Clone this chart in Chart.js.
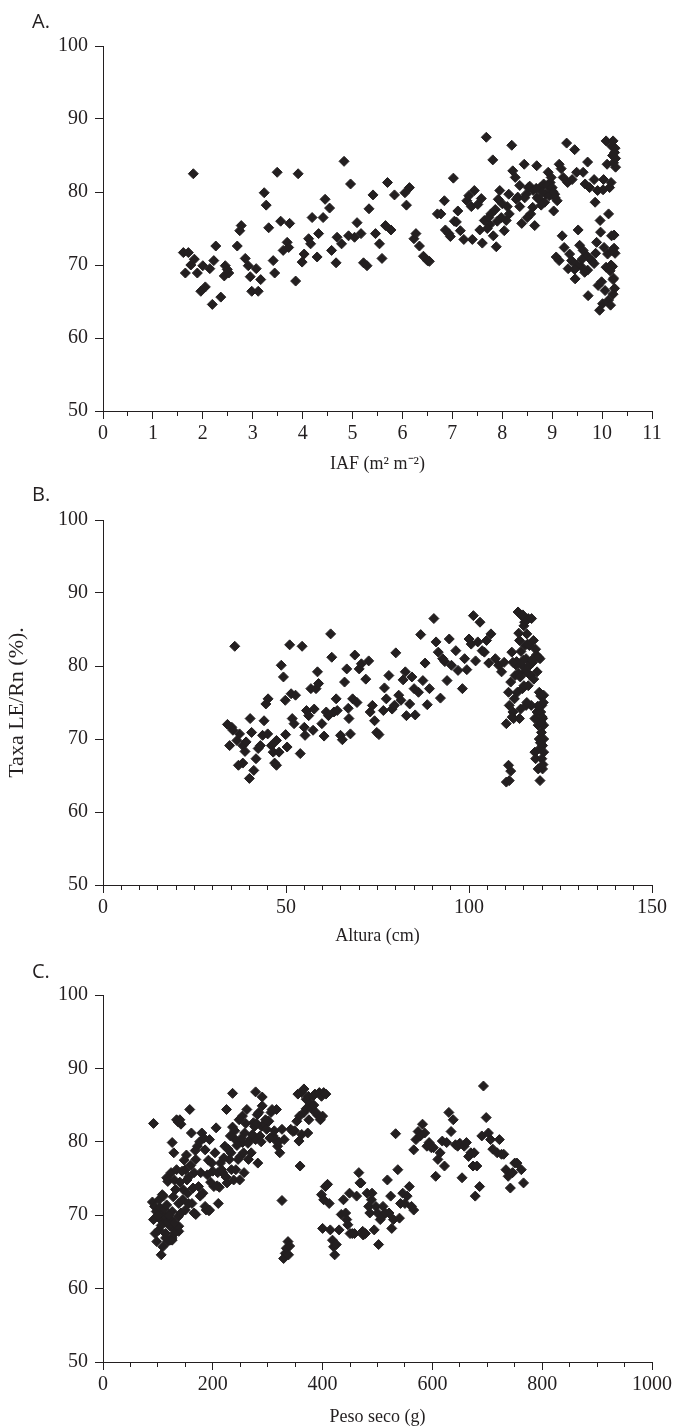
<!DOCTYPE html>
<html>
<head>
<meta charset="utf-8">
<script src="https://cdn.jsdelivr.net/npm/chart.js@4.4.0/dist/chart.umd.min.js"></script>
<style>
  body { margin: 0; background: #fff; }
  #page { position: relative; width: 683px; height: 1428px; overflow: hidden; }
  .panel { position: absolute; left: 0; width: 683px; }
  .panel canvas { display: block; }
  .tag { position: absolute; left: 32px; font-family: "Open Sans", sans-serif; font-size: 20px; line-height: 20px; color: #231f20; }
</style>
</head>
<body>
<div id="page">
  <div class="panel" style="top:0px"><canvas id="chartA" width="683" height="481"></canvas></div>
  <div class="panel" style="top:481px"><canvas id="chartB" width="683" height="475"></canvas></div>
  <div class="panel" style="top:956px"><canvas id="chartC" width="683" height="472"></canvas></div>
  <div class="tag" style="top:11px">A.</div>
  <div class="tag" style="top:484px">B.</div>
  <div class="tag" style="top:961px">C.</div>
</div>
<script>
// Panel A: IAF (m2 m-2) vs Taxa LE/Rn (%)
const iafX = [
  1.61, 1.71, 1.65, 1.81, 1.76, 1.83, 1.89, 1.96, 2.05, 2.00,
  2.14, 2.19, 2.22, 2.26, 2.36, 2.45, 2.43, 2.52, 2.49, 2.69,
  2.74, 2.77, 2.85, 2.91, 2.95, 2.98, 3.11, 3.07, 3.16, 3.23,
  3.27, 3.32, 3.41, 3.44, 3.49, 3.56, 3.61, 3.69, 3.72, 3.74,
  3.86, 3.91, 3.99, 4.03, 4.12, 4.16, 4.19, 4.29, 4.32, 4.41,
  4.45, 4.54, 4.58, 4.67, 4.69, 4.78, 4.83, 4.92, 4.96, 5.04,
  5.09, 5.17, 5.22, 5.29, 5.33, 5.41, 5.46, 5.54, 5.59, 5.66,
  5.70, 5.77, 5.84, 6.05, 6.14, 6.08, 6.23, 6.27, 6.34, 6.42,
  6.50, 6.54, 6.70, 6.77, 6.84, 6.86, 6.93, 6.96, 7.02, 7.04,
  7.08, 7.11, 7.16, 7.23, 7.29, 7.33, 7.38, 7.40, 7.44, 7.51,
  7.58, 7.60, 7.55, 7.64, 7.68, 7.73, 7.77, 7.81, 7.82, 7.88,
  7.86, 7.92, 7.95, 8.00, 8.04, 8.08, 8.13, 8.14, 8.19, 8.21,
  8.26, 8.31, 8.35, 8.39, 8.44, 8.48, 8.52, 8.57, 8.61, 8.65,
  8.69, 8.70, 8.76, 8.83, 8.87, 8.92, 8.96, 8.99, 9.03, 9.05,
  9.10, 9.08, 9.14, 9.14, 9.18, 9.22, 9.20, 9.24, 9.29, 9.31,
  9.32, 9.35, 9.39, 9.40, 9.45, 9.46, 9.49, 9.52, 9.55, 9.58,
  9.62, 9.66, 9.69, 9.71, 9.72, 9.71, 9.75, 9.79, 9.84, 9.84,
  9.86, 9.87, 9.89, 9.91, 9.92, 9.95, 9.96, 9.97, 9.99, 10.01,
  10.02, 10.03, 10.04, 10.06, 10.08, 10.08, 10.10, 10.11, 10.13, 10.13,
  10.15, 10.17, 10.18, 10.19, 10.19, 10.21, 10.22, 10.23, 10.24, 10.25,
  10.22, 10.26, 10.27, 10.24, 10.26, 10.23, 10.21, 10.25, 10.27, 10.20,
  10.18, 10.16, 10.22, 8.55, 8.62, 8.74, 8.80, 8.85, 8.90, 8.94,
  8.98, 9.00, 8.78, 8.68, 8.45, 8.28, 8.35, 8.10, 7.98, 7.90,
  7.75, 7.70, 8.50, 9.02, 9.06, 9.50, 9.60, 9.65, 9.45, 9.62
];
const iafY = [
  71.7, 71.7, 68.9, 82.5, 70.0, 70.8, 68.9, 66.4, 67.0, 69.9,
  69.5, 64.6, 70.6, 72.6, 65.6, 69.9, 68.5, 68.9, 69.4, 72.6,
  74.7, 75.4, 70.9, 69.9, 68.4, 66.4, 66.4, 69.5, 68.0, 79.9,
  78.2, 75.1, 70.6, 68.9, 82.7, 76.0, 72.0, 73.1, 72.4, 75.7,
  67.8, 82.5, 70.4, 71.5, 73.6, 72.9, 76.5, 71.1, 74.3, 76.5,
  79.0, 77.8, 72.0, 70.3, 73.8, 72.9, 84.2, 74.0, 81.1, 73.8,
  75.8, 74.3, 70.3, 69.9, 77.7, 79.6, 74.3, 72.9, 70.9, 75.4,
  81.3, 74.8, 79.6, 79.9, 80.6, 78.2, 73.6, 74.3, 72.6, 71.2,
  70.6, 70.5, 77.0, 77.0, 78.8, 74.8, 74.3, 73.9, 81.9, 76.0,
  75.9, 77.4, 74.7, 73.5, 78.8, 79.5, 78.0, 73.5, 80.2, 78.3,
  79.1, 73.0, 74.8, 76.1, 87.5, 76.5, 77.0, 84.4, 74.0, 72.5,
  77.6, 79.0, 80.2, 78.4, 74.7, 76.1, 79.7, 77.0, 86.4, 82.9,
  82.0, 79.3, 80.9, 75.7, 83.8, 79.7, 80.6, 77.0, 77.9, 75.4,
  83.6, 79.2, 80.6, 81.1, 79.7, 82.7, 81.3, 80.2, 77.4, 79.7,
  78.8, 71.1, 70.6, 83.8, 83.2, 82.0, 74.0, 72.4, 86.7, 81.3,
  69.5, 71.5, 70.6, 81.7, 85.8, 68.1, 82.7, 74.8, 72.7, 69.8,
  82.7, 81.1, 71.3, 69.3, 65.8, 84.1, 80.6, 70.6, 81.7, 70.2,
  78.6, 71.6, 73.1, 80.2, 67.2, 63.8, 76.1, 74.5, 67.7, 64.7,
  80.3, 81.7, 72.4, 66.5, 69.7, 87.0, 83.8, 71.5, 77.0, 65.2,
  80.6, 64.5, 81.3, 86.3, 74.0, 85.0, 68.0, 84.0, 72.3, 66.8,
  87.0, 86.0, 83.4, 74.1, 71.6, 68.2, 69.8, 85.4, 84.6, 72.0,
  70.0, 69.2, 66.0, 80.8, 80.2, 79.0, 80.0, 78.6, 80.9, 79.5,
  82.0, 80.6, 78.2, 80.5, 79.2, 79.0, 78.0, 78.0, 76.5, 76.0,
  75.5, 75.0, 76.5, 80.0, 79.2, 70.0, 70.8, 69.0, 69.4, 72.0
];

// Panel B: Altura (cm) vs Taxa LE/Rn (%)
const alturaX = [
  34.0, 35.2, 35.5, 34.6, 36.0, 36.6, 37.3, 37.0, 38.2, 38.2,
  39.1, 38.8, 40.0, 40.2, 40.6, 41.2, 41.8, 42.4, 43.0, 43.6,
  44.0, 44.5, 45.1, 45.0, 46.0, 46.5, 46.9, 47.4, 47.4, 48.1,
  48.7, 49.3, 49.8, 49.9, 50.3, 51.0, 51.4, 51.7, 52.2, 52.6,
  53.9, 54.4, 55.0, 55.2, 55.6, 56.2, 56.8, 57.4, 57.7, 58.2,
  58.6, 58.9, 59.8, 60.4, 61.0, 61.6, 62.2, 62.5, 63.1, 63.7,
  64.0, 64.9, 65.4, 66.0, 66.6, 67.0, 67.2, 67.6, 68.2, 68.8,
  69.4, 70.0, 70.6, 71.8, 72.6, 73.0, 73.6, 74.2, 74.8, 75.4,
  76.6, 76.9, 77.4, 78.1, 79.0, 79.6, 80.0, 80.8, 81.4, 82.0,
  82.6, 82.9, 83.8, 84.4, 85.0, 85.3, 86.2, 86.8, 87.4, 88.0,
  88.6, 89.2, 90.4, 91.0, 91.6, 92.2, 92.8, 93.4, 94.0, 94.6,
  95.2, 96.4, 97.0, 98.2, 98.8, 99.4, 100.0, 100.6, 101.2, 101.8,
  102.4, 103.0, 103.6, 104.2, 104.8, 105.4, 106.0, 107.2, 108.1, 108.9,
  109.6, 110.2, 110.2, 110.8, 111.0, 110.8, 111.0, 111.4, 111.4, 111.7,
  112.0, 112.2, 112.6, 112.9, 113.2, 113.4, 113.8, 113.8, 114.1, 114.4,
  114.4, 114.6, 115.0, 115.0, 115.3, 115.3, 115.6, 115.6, 115.8, 116.2,
  116.2, 116.5, 116.8, 117.0, 117.1, 117.4, 117.7, 118.0, 118.0, 118.2,
  118.2, 118.6, 118.6, 118.9, 118.9, 119.2, 119.2, 119.4, 119.4, 119.4,
  119.6, 119.6, 119.8, 119.9, 119.9, 120.1, 120.1, 120.1, 120.4, 120.4,
  120.4, 120.4, 113.0, 113.5, 114.0, 114.8, 115.2, 114.7, 116.0, 116.4,
  117.2, 117.6, 118.4, 119.0, 120.0, 120.2, 119.7, 120.3, 119.5, 118.8,
  112.4, 111.8, 112.0, 113.6, 114.2, 115.8
];
const alturaY = [
  72.0, 71.6, 71.2, 69.1, 82.7, 69.8, 70.7, 66.4, 66.7, 69.1,
  69.6, 68.3, 64.6, 72.8, 70.9, 65.7, 67.3, 68.7, 69.1, 70.5,
  72.5, 74.8, 75.5, 70.7, 69.1, 68.2, 66.7, 66.4, 69.8, 68.2,
  80.1, 78.5, 75.3, 70.6, 68.9, 82.9, 76.2, 72.8, 72.1, 76.0,
  68.0, 82.7, 71.6, 70.5, 73.9, 73.2, 76.9, 71.2, 74.1, 76.9,
  79.2, 77.6, 72.1, 70.4, 73.7, 73.2, 84.4, 81.2, 73.7, 75.5,
  73.9, 70.5, 69.9, 77.8, 79.6, 74.2, 72.8, 70.7, 75.5, 81.5,
  75.0, 79.6, 80.3, 78.2, 80.7, 73.7, 74.6, 72.5, 70.9, 70.6,
  73.9, 77.0, 75.5, 78.7, 74.1, 74.6, 81.8, 76.0, 75.3, 78.1,
  79.2, 73.2, 74.8, 78.5, 76.9, 73.3, 76.4, 84.3, 78.0, 80.4,
  74.7, 76.9, 86.5, 83.3, 81.9, 75.6, 81.0, 80.6, 78.0, 83.7,
  80.1, 82.1, 79.4, 76.9, 81.0, 79.5, 83.7, 83.0, 86.9, 80.7,
  83.3, 86.0, 82.1, 81.9, 83.5, 80.4, 84.4, 81.0, 80.1, 79.2,
  80.5, 72.1, 64.1, 66.4, 64.3, 76.4, 74.6, 77.8, 65.6, 81.9,
  73.7, 72.8, 78.7, 80.1, 76.4, 87.4, 83.5, 72.8, 74.1, 86.9,
  80.1, 76.9, 77.3, 85.5, 82.8, 79.2, 74.6, 81.0, 84.4, 86.5,
  77.3, 82.8, 78.7, 74.6, 86.5, 80.5, 78.2, 72.8, 68.2, 82.3,
  67.3, 73.7, 79.2, 71.9, 65.9, 76.4, 70.0, 68.7, 81.0, 64.3,
  75.9, 73.7, 70.9, 67.3, 74.6, 72.8, 69.1, 65.9, 71.9, 68.2,
  76.0, 70.0, 80.6, 79.0, 78.5, 80.8, 86.0, 87.0, 83.0, 80.0,
  80.8, 83.5, 81.5, 81.2, 73.0, 66.5, 72.3, 75.0, 69.5, 74.5,
  75.5, 73.0, 80.5, 84.5, 82.0, 75.0
];

// Panel C: Peso seco (g) vs Taxa LE/Rn (%)
const pesoX = [
  92, 90, 94, 97, 92, 98, 102, 105, 108, 110,
  113, 95, 98, 102, 106, 109, 114, 118, 122, 126,
  130, 108, 116, 118, 124, 126, 129, 130, 134, 137,
  138, 140, 142, 145, 146, 150, 153, 154, 158, 161,
  162, 164, 166, 169, 172, 174, 177, 178, 180, 182,
  186, 188, 190, 194, 198, 202, 206, 209, 210, 214,
  218, 222, 226, 230, 233, 234, 238, 241, 242, 246,
  249, 250, 254, 257, 258, 262, 265, 268, 270, 274,
  276, 278, 281, 282, 286, 289, 290, 294, 298, 300,
  302, 306, 310, 313, 316, 318, 322, 326, 330, 236,
  278, 290, 225, 254, 308, 134, 137, 114, 122, 126,
  130, 138, 113, 118, 124, 130, 126, 138, 142, 150,
  156, 166, 169, 186, 194, 193, 326, 329, 332, 334,
  337, 338, 340, 342, 346, 353, 357, 359, 362, 366,
  370, 373, 374, 378, 382, 386, 390, 394, 398, 402,
  406, 366, 370, 375, 380, 384, 388, 396, 400, 358,
  355, 362, 349, 398, 400, 402, 405, 409, 412, 414,
  418, 420, 422, 425, 430, 434, 438, 442, 444, 446,
  449, 450, 454, 458, 462, 466, 468, 470, 473, 474,
  478, 481, 484, 486, 489, 490, 494, 497, 500, 502,
  505, 508, 510, 514, 518, 521, 524, 526, 529, 533,
  537, 540, 542, 546, 550, 554, 558, 562, 566, 566,
  570, 574, 578, 582, 586, 590, 594, 598, 602, 606,
  610, 614, 618, 622, 626, 630, 634, 638, 642, 646,
  650, 654, 658, 662, 666, 670, 674, 676, 678, 681,
  686, 690, 693, 698, 702, 706, 710, 718, 722, 726,
  730, 734, 738, 742, 746, 750, 754, 762, 766,
  100, 104, 106, 112, 116, 120, 128, 132, 140, 144,
  148, 152, 156, 160, 168, 176, 184, 192, 196, 200,
  204, 208, 212, 216, 220, 224, 228, 232, 236, 240,
  244, 248, 252, 256, 260, 264, 272, 280, 284, 288,
  296, 304, 312, 320
];
const pesoY = [
  82.5, 71.8, 71.2, 70.5, 69.4, 69.8, 72.1, 69.4, 70.3, 72.6,
  69.1, 67.5, 66.4, 68.0, 64.6, 65.7, 66.9, 66.4, 68.5, 66.9,
  68.0, 72.8, 75.1, 74.6, 75.8, 79.9, 78.5, 74.8, 76.2, 69.8,
  67.8, 83.0, 82.4, 72.1, 73.5, 76.2, 74.8, 73.0, 84.4, 81.2,
  71.6, 73.7, 75.8, 77.6, 79.4, 73.9, 72.6, 75.8, 81.2, 73.0,
  78.9, 70.7, 75.5, 80.3, 77.1, 73.9, 81.9, 75.8, 71.6, 77.1,
  75.8, 79.4, 74.4, 77.6, 78.5, 76.2, 74.8, 80.3, 76.2, 77.6,
  74.8, 78.0, 79.9, 75.8, 81.2, 84.4, 77.6, 80.3, 78.5, 82.6,
  82.1, 80.3, 83.7, 77.1, 80.8, 82.1, 84.9, 82.4, 81.7, 82.8,
  82.8, 84.0, 80.8, 80.3, 84.4, 79.4, 78.5, 81.7, 80.3, 86.6,
  86.8, 86.1, 84.4, 83.5, 84.4, 83.0, 82.7, 67.5, 66.6, 66.6,
  67.5, 68.5, 69.8, 69.1, 69.4, 68.9, 70.5, 71.6, 70.3, 70.7,
  71.6, 70.3, 70.1, 71.2, 70.7, 70.6, 72.0, 64.1, 64.8, 65.5,
  66.4, 64.6, 65.8, 81.7, 81.4, 82.8, 80.1, 76.7, 86.7, 87.2,
  85.8, 81.2, 86.2, 85.1, 86.2, 86.5, 83.7, 86.7, 86.2, 86.7,
  86.5, 84.0, 84.5, 83.0, 84.5, 85.0, 84.0, 83.0, 83.5, 83.5,
  86.5, 81.0, 81.5, 72.8, 68.2, 72.1, 73.9, 74.2, 71.6, 68.0,
  66.6, 65.7, 64.6, 66.0, 68.0, 70.1, 72.1, 70.3, 69.4, 68.7,
  73.0, 67.5, 67.5, 67.5, 72.6, 75.8, 74.4, 74.4, 67.8, 67.3,
  67.5, 73.0, 71.2, 70.3, 72.1, 73.0, 68.0, 71.2, 70.3, 66.0,
  69.4, 69.8, 71.2, 70.3, 74.8, 70.3, 72.6, 68.2, 69.4, 81.1,
  76.2, 69.6, 71.6, 73.0, 71.6, 72.6, 73.9, 71.2, 70.7, 78.9,
  80.3, 81.4, 80.8, 82.4, 81.2, 79.4, 79.9, 79.2, 79.2, 75.3,
  77.6, 78.5, 80.1, 76.7, 79.9, 84.0, 81.4, 83.0, 79.6, 79.4,
  79.8, 75.1, 79.4, 79.9, 78.0, 78.5, 76.7, 78.5, 72.6, 76.7,
  73.9, 80.8, 87.6, 83.3, 81.2, 80.3, 79.0, 78.5, 80.3, 78.3,
  78.3, 76.2, 75.3, 73.7, 75.8, 77.1, 77.1, 76.2, 74.4,
  70.0, 71.0, 68.6, 70.8, 71.4, 70.0, 72.5, 73.5, 74.5, 76.0,
  77.5, 78.2, 75.2, 76.8, 78.8, 80.0, 80.5, 77.5, 74.5, 76.0,
  78.5, 74.0, 73.8, 76.2, 77.8, 75.2, 79.0, 80.8, 82.0, 81.5,
  79.5, 83.0, 80.5, 78.5, 82.5, 79.8, 81.0, 82.5, 84.0, 80.0,
  83.0, 80.5, 81.5, 80.0
];

const INK = '#231f20';
const SERIF = '"Liberation Serif", "Times New Roman", serif';
const tickFont = { family: SERIF, size: 20 };
const xTitleFont = { family: SERIF, size: 18 };
const yTitleFont = { family: SERIF, size: 22 };

const panels = [
  { id: 'chartA', xs: iafX, ys: iafY, xMax: 11, major: 1, minor: 0.5,
    xTitle: 'IAF (m² m⁻²)', yTitle: '', padTop: 46, xHeight: 70, titlePad: 6 },
  { id: 'chartB', xs: alturaX, ys: alturaY, xMax: 150, major: 50, minor: 5,
    xTitle: 'Altura (cm)', yTitle: 'Taxa LE/Rn (%).', padTop: 39, xHeight: 71, titlePad: 9 },
  { id: 'chartC', xs: pesoX, ys: pesoY, xMax: 1000, major: 200, minor: 50,
    xTitle: 'Peso seco (g)', yTitle: '', padTop: 39, xHeight: 66, titlePad: 0 }
];

function makePanel(p) {
  const ctx = document.getElementById(p.id).getContext('2d');
  return new Chart(ctx, {
    type: 'scatter',
    data: {
      datasets: [{
        data: p.xs.map((x, i) => ({ x: x, y: p.ys[i] })),
        pointStyle: 'rectRot',
        pointRadius: 5,
        borderWidth: 1,
        backgroundColor: INK,
        borderColor: INK
      }]
    },
    options: {
      responsive: false,
      animation: false,
      devicePixelRatio: 1,
      layout: { padding: { top: p.padTop, right: 31, bottom: 0, left: 0 } },
      plugins: { legend: { display: false }, tooltip: { enabled: false } },
      scales: {
        x: {
          type: 'linear', position: 'bottom', min: 0, max: p.xMax,
          afterFit: s => { s.height = p.xHeight; },
          ticks: { stepSize: p.major, autoSkip: false, maxRotation: 0, padding: 3, color: INK, font: tickFont,
            callback: v => String(v) },
          grid: { drawOnChartArea: false, tickLength: 8, color: INK },
          border: { color: INK, width: 1 },
          title: { display: true, text: p.xTitle, color: INK, font: xTitleFont, padding: { top: 0, bottom: p.titlePad } }
        },
        xMinor: {
          type: 'linear', axis: 'x', position: { y: 50 }, min: 0, max: p.xMax,
          ticks: { display: false, stepSize: p.minor, autoSkip: false },
          grid: { drawOnChartArea: false, tickLength: 5, color: INK },
          border: { display: false }
        },
        y: {
          type: 'linear', position: 'left', min: 50, max: 100,
          afterFit: s => { s.width = 103; },
          ticks: { stepSize: 10, padding: 7, color: INK, font: tickFont },
          grid: { drawOnChartArea: false, tickLength: 8, color: INK },
          border: { color: INK, width: 1 },
          title: { display: !!p.yTitle, text: p.yTitle, color: INK, font: yTitleFont, padding: { top: 4, bottom: 0 } }
        }
      }
    }
  });
}

panels.forEach(makePanel);
</script>
</body>
</html>
